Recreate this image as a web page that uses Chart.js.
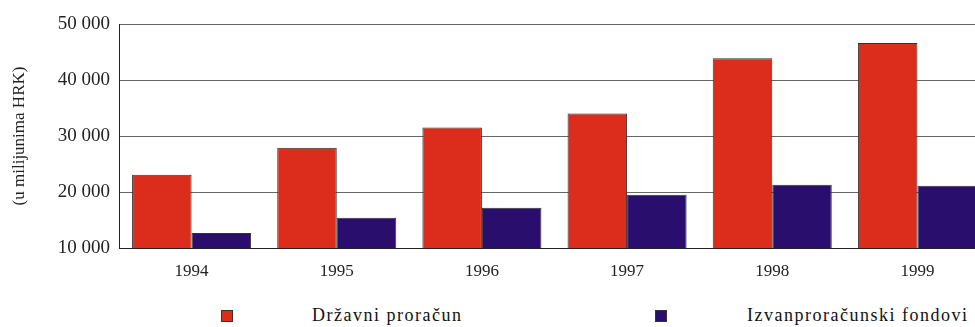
<!DOCTYPE html>
<html>
<head>
<meta charset="utf-8">
<script src="https://cdn.jsdelivr.net/npm/chart.js@4"></script>
<style>
  html, body { margin: 0; padding: 0; background: #fff; overflow: hidden; }
  #wrap { position: relative; width: 990px; height: 290px; }
  #legend { position: absolute; top: 304px; left: 0; width: 975px; height: 22px;
    font-family: "Times New Roman", "Liberation Serif", serif; font-size: 18px; color: #111; letter-spacing: 1.5px; }
  .item { position: absolute; top: 0; display: flex; align-items: center; }
  .box { width: 12px; height: 12px; border: 1px solid #333; box-sizing: border-box; }
  .label { position: absolute; white-space: nowrap; top: 1px; }
</style>
</head>
<body>
<div id="wrap"><canvas id="chart" width="990" height="290"></canvas></div>
<div id="legend"></div>
<script>
const years = ["1994", "1995", "1996", "1997", "1998", "1999"];
const drzavniProracun = [23100, 27900, 31500, 34000, 43900, 46600];
const izvanproracunskiFondovi = [12700, 15400, 17200, 19500, 21300, 21100];
const yTicks = [10000, 20000, 30000, 40000, 50000];

const seriesNames = ["Državni proračun", "Izvanproračunski fondovi"];
const seriesColors = ["#dc2c1c", "#2a0e6e"];

// thousands separated by a space: 50 000
function fmt(v) {
  return String(v).replace(/\B(?=(\d{3})+(?!\d))/g, " ");
}

const serif = "'Times New Roman', 'Liberation Serif', serif";

function drawChart() {
  new Chart(document.getElementById("chart").getContext("2d"), {
    type: "bar",
    data: {
      labels: years,
      datasets: [
        { label: seriesNames[0], data: drzavniProracun, backgroundColor: seriesColors[0],
          borderColor: "#333", borderWidth: 1, borderSkipped: "bottom" },
        { label: seriesNames[1], data: izvanproracunskiFondovi, backgroundColor: seriesColors[1],
          borderColor: "#333", borderWidth: 1, borderSkipped: "bottom" }
      ]
    },
    options: {
      responsive: false,
      animation: false,
      devicePixelRatio: 1,
      layout: { padding: { top: 24, left: 9, right: 0, bottom: 0 } },
      plugins: { legend: { display: false }, tooltip: { enabled: false } },
      datasets: { bar: { categoryPercentage: 0.82, barPercentage: 1.0 } },
      scales: {
        x: {
          grid: { display: false },
          border: { color: "#222", width: 1 },
          ticks: { color: "#222", font: { family: serif, size: 17 }, padding: 5 },
          afterFit: s => { s.height = 42; }
        },
        y: {
          min: 10000,
          max: 50000,
          afterBuildTicks: s => { s.ticks = yTicks.map(v => ({ value: v })); },
          grid: { color: "#666", lineWidth: 1, drawTicks: false },
          border: { color: "#222", width: 1 },
          ticks: { color: "#222", font: { family: serif, size: 19 }, padding: 9, callback: v => fmt(v) },
          title: { display: true, text: "(u milijunima HRK)", color: "#222",
            font: { family: serif, size: 17 }, padding: { top: 0, bottom: 8 } },
          afterFit: s => { s.width = 110; }
        }
      }
    }
  });
}

// canvas text only uses the serif face once it is loaded
Promise.all([
  document.fonts.load("19px 'Times New Roman'"),
  document.fonts.load("19px 'Liberation Serif'")
]).then(drawChart, drawChart);

// legend below the plot: box, then a wide gap, then the name
const legendPos = [{ box: 221, text: 312 }, { box: 655, text: 747 }];
const legend = document.getElementById("legend");
seriesNames.forEach((name, i) => {
  const box = document.createElement("div");
  box.className = "item";
  box.style.left = legendPos[i].box + "px";
  box.style.top = "6px";
  box.innerHTML = `<div class="box" style="background:${seriesColors[i]}"></div>`;
  legend.appendChild(box);
  const txt = document.createElement("div");
  txt.className = "label";
  txt.style.left = legendPos[i].text + "px";
  txt.textContent = name;
  legend.appendChild(txt);
});
</script>
</body>
</html>
